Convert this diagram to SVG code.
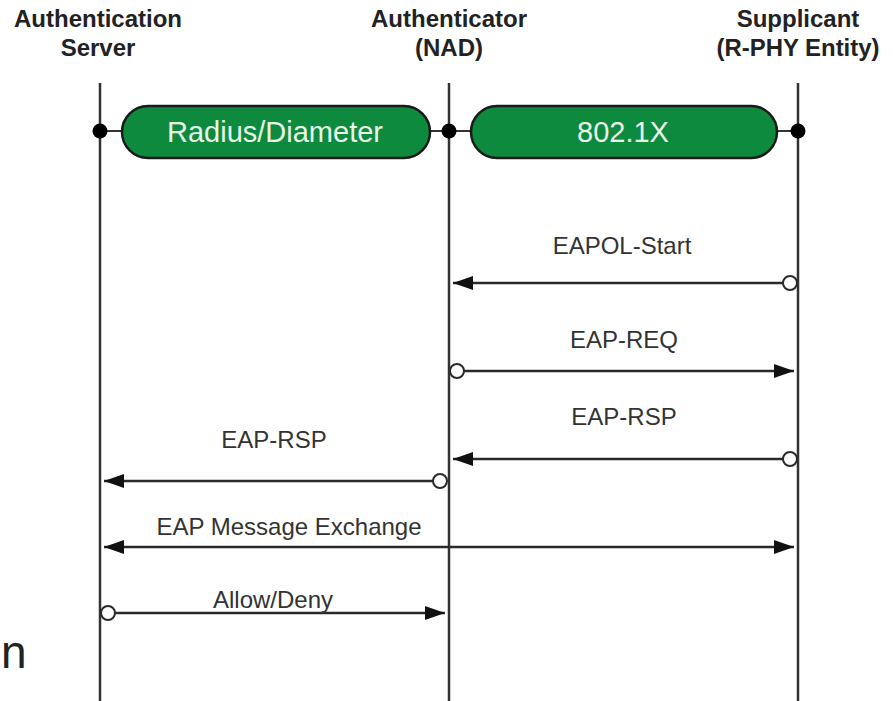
<svg xmlns="http://www.w3.org/2000/svg" width="893" height="701" viewBox="0 0 893 701">
  <style>
    .hdr { font-family: "Liberation Sans", Arial, sans-serif; font-weight: bold; font-size: 24px; fill: #222; text-anchor: middle; }
    .lbl { font-family: "Liberation Sans", Arial, sans-serif; font-size: 24px; fill: #333; text-anchor: middle; }
    .pilltxt { font-family: "Liberation Sans", Arial, sans-serif; font-size: 29px; fill: #e8f5e9; text-anchor: middle; }
    .life { stroke: #333; stroke-width: 2.5; }
    .pill { fill: #0e8a3e; stroke: #1a1a1a; stroke-width: 2.5; }
    .msg { stroke: #2a2a2a; stroke-width: 2.5; fill: none; }
    .open { fill: #fff; stroke: #2a2a2a; stroke-width: 2; }
    .dot { fill: #000; }
  </style>
  <defs>
    <marker id="arrow" viewBox="0 0 20 14" refX="20" refY="7" markerWidth="20" markerHeight="14" markerUnits="userSpaceOnUse" orient="auto-start-reverse">
      <path d="M0,0 L20,7 L0,14 Z" fill="#111"/>
    </marker>
  </defs>
  <rect width="893" height="701" fill="#fff"/>

  <!-- lifelines -->
  <g id="lifelines">
    <line class="life" x1="100" y1="83" x2="100" y2="701"/>
    <line class="life" x1="449" y1="83" x2="449" y2="701"/>
    <line class="life" x1="798" y1="83" x2="798" y2="701"/>
  </g>

  <!-- entity headers -->
  <g id="auth-server">
    <text class="hdr" x="98" y="27">Authentication</text>
    <text class="hdr" x="98" y="56">Server</text>
  </g>
  <g id="authenticator">
    <text class="hdr" x="449" y="27">Authenticator</text>
    <text class="hdr" x="449" y="56">(NAD)</text>
  </g>
  <g id="supplicant">
    <text class="hdr" x="798" y="27">Supplicant</text>
    <text class="hdr" x="798" y="56" textLength="163" lengthAdjust="spacingAndGlyphs">(R-PHY Entity)</text>
  </g>

  <!-- protocol bars -->
  <g id="radius">
    <line stroke="#333" stroke-width="2" x1="100" y1="131" x2="449" y2="131"/>
    <rect class="pill" x="122" y="106" width="308" height="52" rx="26"/>
    <text class="pilltxt" x="275" y="142">Radius/Diameter</text>
  </g>
  <g id="dot1x">
    <line stroke="#333" stroke-width="2" x1="449" y1="131" x2="798" y2="131"/>
    <rect class="pill" x="471" y="106" width="306" height="52" rx="26"/>
    <text class="pilltxt" x="623" y="142">802.1X</text>
  </g>
  <g id="anchors">
    <circle class="dot" cx="100" cy="131" r="7.5"/>
    <circle class="dot" cx="449" cy="131" r="7.5"/>
    <circle class="dot" cx="798" cy="131" r="7.5"/>
  </g>

  <!-- message flows -->
  <g id="connectors">
    <line class="msg" x1="783" y1="283" x2="453" y2="283" marker-end="url(#arrow)"/>
    <circle class="open" cx="790" cy="283" r="7"/>

    <line class="msg" x1="464" y1="371" x2="794" y2="371" marker-end="url(#arrow)"/>
    <circle class="open" cx="457" cy="371" r="7"/>

    <line class="msg" x1="783" y1="459" x2="453" y2="459" marker-end="url(#arrow)"/>
    <circle class="open" cx="790" cy="459" r="7"/>

    <line class="msg" x1="433" y1="481" x2="104" y2="481" marker-end="url(#arrow)"/>
    <circle class="open" cx="440" cy="481" r="7"/>

    <line class="msg" x1="104" y1="547" x2="794" y2="547" marker-start="url(#arrow)" marker-end="url(#arrow)"/>

    <line class="msg" x1="115" y1="613" x2="445" y2="613" marker-end="url(#arrow)"/>
    <circle class="open" cx="108" cy="613" r="7"/>
  </g>

  <!-- message labels -->
  <g id="labels">
    <text class="lbl" x="622" y="254">EAPOL-Start</text>
    <text class="lbl" x="624" y="348">EAP-REQ</text>
    <text class="lbl" x="624" y="425">EAP-RSP</text>
    <text class="lbl" x="274" y="448">EAP-RSP</text>
    <text class="lbl" x="289" y="535">EAP Message Exchange</text>
    <text class="lbl" x="273" y="608">Allow/Deny</text>
  </g>

  <text x="1" y="668" font-family="Liberation Sans, Arial, sans-serif" font-size="46" fill="#222">n</text>
</svg>
